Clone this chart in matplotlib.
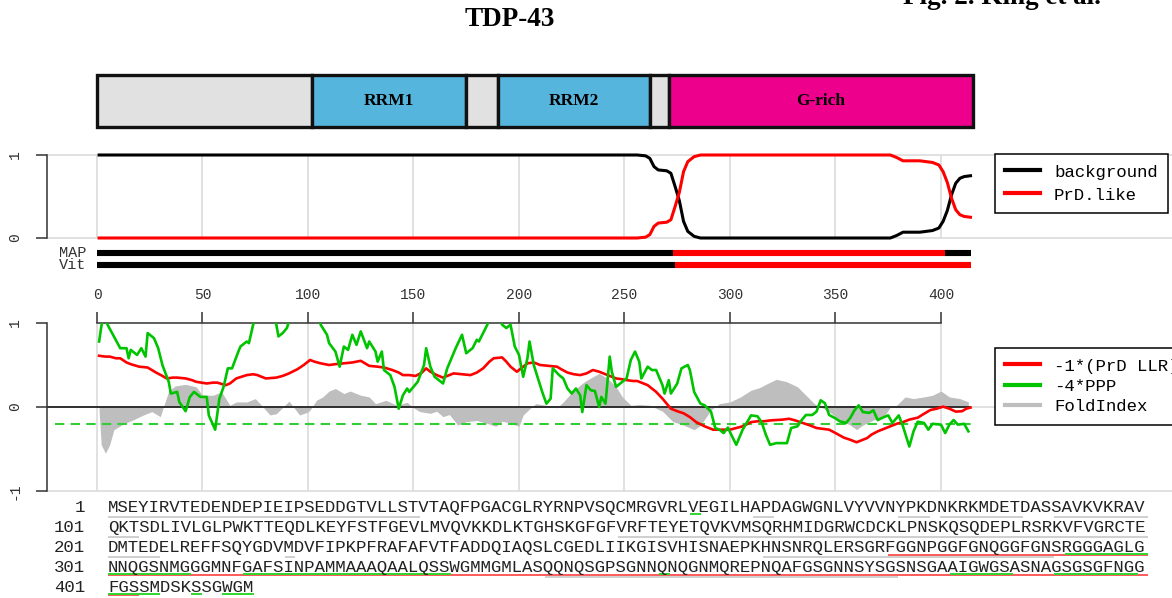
import matplotlib
matplotlib.use('Agg')
import matplotlib.pyplot as plt
from matplotlib.lines import Line2D

W, H = 1172, 598
MONO = 'Liberation Mono'
SERIF = 'Liberation Serif'
plt.rcParams['font.family'] = MONO
plt.rcParams['axes.unicode_minus'] = False

# ---- data ----
seq_lines = [
    'MSEYIRVTEDENDEPIEIPSEDDGTVLLSTVTAQFPGACGLRYRNPVSQCMRGVRLVEGILHAPDAGWGNLVYVVNYPKDNKRKMDETDASSAVKVKRAV',
    'QKTSDLIVLGLPWKTTEQDLKEYFSTFGEVLMVQVKKDLKTGHSKGFGFVRFTEYETQVKVMSQRHMIDGRWCDCKLPNSKQSQDEPLRSRKVFVGRCTE',
    'DMTEDELREFFSQYGDVMDVFIPKPFRAFAFVTFADDQIAQSLCGEDLIIKGISVHISNAEPKHNSNRQLERSGRFGGNPGGFGNQGGFGNSRGGGAGLG',
    'NNQGSNMGGGMNFGAFSINPAMMAAAQAALQSSWGMMGMLASQQNQSGPSGNNQNQGNMQREPNQAFGSGNNSYSGSNSGAAIGWGSASNAGSGSGFNGG',
    'FGSSMDSKSSGWGM',
]
seq_len = 414

dom_start = [0, 102, 175, 190, 262, 271]
dom_end = [102, 175, 190, 262, 271, 415]
dom_name = ['', 'RRM1', '', 'RRM2', '', 'G-rich']

# HMM state probabilities
bg_x = [1, 250, 256, 260, 262, 264, 266, 270, 272, 274, 276, 278, 280, 283, 286, 300, 350, 376,
        379, 382, 390, 396, 399, 401, 403, 405, 407, 409, 411, 414]
bg_y = [1, 1, 1, 0.99, 0.96, 0.86, 0.82, 0.81, 0.78, 0.62, 0.45, 0.2, 0.08, 0.02, 0.0, 0.0, 0.0, 0.0,
        0.03, 0.07, 0.07, 0.09, 0.12, 0.2, 0.33, 0.52, 0.66, 0.72, 0.74, 0.75]
prd_y = [0, 0, 0, 0.01, 0.04, 0.14, 0.18, 0.19, 0.22, 0.38, 0.55, 0.8, 0.92, 0.98, 1.0, 1.0, 1.0, 1.0,
         0.97, 0.93, 0.93, 0.91, 0.88, 0.8, 0.67, 0.48, 0.34, 0.28, 0.26, 0.25]

# MAP / Viterbi parse (0 = background, 1 = PrD-like)
map_bounds = [0, 273, 402, 414]
map_state = [0, 1, 0]
vit_bounds = [0, 274, 414]
vit_state = [0, 1]

# -1*(PrD LLR)
llr_x = [1, 4, 6, 9, 11, 14, 16, 20, 24, 28, 31, 33, 36, 38, 42, 45, 47, 52, 55, 57, 61, 63, 66, 71,
         74, 76, 80, 85, 88, 91, 95, 98, 101, 103, 106, 110, 113, 117, 121, 125, 129, 133, 136, 140,
         143, 145, 148, 151, 154, 156, 158, 161, 164, 166, 169, 173, 177, 180, 183, 186, 188, 192,
         194, 196, 199, 201, 204, 207, 210, 214, 218, 220, 223, 226, 229, 232, 235, 238, 240, 243,
         246, 249, 251, 254, 256, 258, 261, 263, 265, 268, 272, 275, 278, 281, 284, 288, 292, 296,
         300, 303, 306, 310, 313, 316, 319, 322, 325, 328, 331, 335, 338, 341, 344, 347, 350, 354,
         357, 360, 362, 365, 367, 370, 373, 376, 379, 382, 385, 389, 392, 395, 398, 401, 404, 407,
         410, 412, 414]
llr_y = [0.61, 0.60, 0.60, 0.58, 0.58, 0.53, 0.51, 0.48, 0.47, 0.41, 0.37, 0.34, 0.35, 0.35, 0.34,
         0.32, 0.30, 0.28, 0.29, 0.29, 0.26, 0.28, 0.34, 0.38, 0.39, 0.38, 0.34, 0.35, 0.37, 0.40,
         0.45, 0.50, 0.56, 0.54, 0.52, 0.50, 0.51, 0.52, 0.53, 0.55, 0.49, 0.48, 0.47, 0.44, 0.41,
         0.38, 0.38, 0.37, 0.41, 0.46, 0.42, 0.38, 0.35, 0.37, 0.40, 0.39, 0.38, 0.41, 0.46, 0.54,
         0.58, 0.59, 0.54, 0.48, 0.42, 0.46, 0.52, 0.53, 0.50, 0.49, 0.48, 0.45, 0.41, 0.39, 0.38,
         0.40, 0.44, 0.42, 0.40, 0.37, 0.34, 0.33, 0.32, 0.31, 0.31, 0.29, 0.26, 0.22, 0.18, 0.10,
         -0.02, -0.05, -0.075, -0.12, -0.18, -0.23, -0.27, -0.27, -0.27, -0.25, -0.23, -0.18, -0.17,
         -0.17, -0.16, -0.155, -0.15, -0.14, -0.16, -0.195, -0.22, -0.25, -0.26, -0.27, -0.31,
         -0.365, -0.39, -0.42, -0.40, -0.37, -0.33, -0.29, -0.26, -0.23, -0.20, -0.18, -0.15,
         -0.127, -0.08, -0.036, -0.02, 0.004, -0.02, -0.055, -0.05, -0.02, -0.007]

# -4*PPP
ppp_x = [1, 2, 3, 4, 5, 8, 11, 14, 15, 16, 19, 21, 23, 24, 27, 29, 31, 34, 35, 38, 39, 42, 44, 46,
         49, 52, 53, 56, 58, 60, 62, 64, 67, 68, 71, 72, 74, 76, 80, 83, 85, 86, 88, 90, 92, 100,
         105, 106, 109, 110, 113, 115, 117, 119, 121, 123, 125, 128, 129, 132, 133, 135, 136, 139,
         141, 143, 145, 147, 148, 150, 152, 155, 156, 158, 160, 164, 166, 170, 173, 175, 178, 180,
         181, 185, 187, 190, 192, 194, 196, 198, 200, 202, 204, 205, 207, 209, 211, 213, 215, 216,
         219, 221, 223, 225, 227, 229, 230, 232, 234, 236, 238, 239, 241, 243, 244, 246, 249, 251,
         253, 255, 257, 258, 261, 263, 265, 268, 269, 271, 272, 275, 277, 280, 281, 283, 286, 288,
         291, 293, 295, 297, 299, 301, 303, 306, 310, 313, 315, 317, 319, 322, 327, 329, 332, 334,
         336, 339, 341, 343, 345, 347, 350, 352, 355, 357, 359, 361, 363, 366, 368, 370, 373, 375,
         377, 380, 382, 384, 385, 387, 389, 392, 394, 396, 400, 402, 404, 406, 408, 411, 413]
ppp_y = [0.78, 0.95, 1.10, 1.05, 0.98, 0.84, 0.70, 0.70, 0.58, 0.68, 0.62, 0.70, 0.60, 0.88, 0.82,
         0.70, 0.50, 0.30, 0.16, 0.18, 0.06, -0.05, 0.12, 0.18, 0.12, 0.12, -0.10, -0.27, 0.10, 0.24,
         0.46, 0.46, 0.66, 0.72, 0.78, 0.76, 0.98, 1.10, 1.25, 1.10, 0.98, 0.84, 0.88, 0.94, 1.10,
         1.25, 1.10, 0.98, 0.86, 0.76, 0.66, 0.48, 0.72, 0.68, 0.86, 0.74, 0.90, 0.70, 0.78, 0.66,
         0.54, 0.66, 0.44, 0.38, 0.24, -0.02, 0.14, 0.22, 0.18, 0.24, 0.30, 0.50, 0.70, 0.48, 0.36,
         0.28, 0.46, 0.70, 0.86, 0.64, 0.70, 0.80, 0.78, 0.98, 1.15, 1.10, 0.98, 0.94, 0.98, 0.72,
         0.62, 0.36, 0.58, 0.78, 0.50, 0.34, 0.18, 0.04, 0.10, 0.46, 0.38, 0.34, 0.22, 0.16, 0.22,
         0.14, -0.06, 0.26, 0.20, 0.19, 0.0, 0.12, 0.04, 0.60, 0.42, 0.24, 0.30, 0.34, 0.56, 0.66,
         0.54, 0.34, 0.48, 0.44, 0.44, 0.26, 0.16, 0.32, 0.16, 0.28, 0.46, 0.50, 0.44, 0.18, 0.04,
         0.02, -0.055, -0.25, -0.27, -0.31, -0.245, -0.35, -0.45, -0.27, -0.10, -0.11, -0.18, -0.33,
         -0.45, -0.43, -0.43, -0.25, -0.23, -0.155, -0.095, -0.095, -0.055, 0.08, 0.045, -0.095,
         -0.135, -0.17, -0.19, -0.13, -0.04, 0.02, -0.06, -0.07, -0.04, -0.155, -0.12, -0.10, -0.19,
         -0.10, -0.23, -0.39, -0.47, -0.29, -0.175, -0.19, -0.27, -0.20, -0.21, -0.31, -0.21, -0.155,
         -0.21, -0.20, -0.29]

# FoldIndex
fold_x = [1, 2, 4, 6, 8, 12, 17, 22, 26, 30, 32, 34, 37, 42, 47, 50, 55, 59, 63, 66, 71, 75, 78, 82,
          85, 91, 96, 100, 101, 104, 107, 110, 113, 117, 120, 125, 129, 132, 137, 142, 147, 150, 153,
          158, 161, 164, 167, 171, 175, 180, 185, 189, 192, 196, 200, 202, 206, 208, 213, 218, 221,
          226, 231, 235, 238, 242, 246, 249, 253, 257, 262, 265, 268, 273, 278, 283, 286, 291, 295,
          300, 305, 310, 314, 317, 322, 327, 332, 336, 340, 343, 347, 352, 357, 360, 363, 368, 373,
          376, 379, 383, 387, 392, 396, 400, 404, 409, 413]
fold_y = [-0.05, -0.45, -0.55, -0.45, -0.27, -0.21, -0.155, -0.095, -0.055, -0.115, 0.04, 0.19, 0.25,
          0.27, 0.24, 0.14, 0.14, 0.18, 0.02, 0.06, 0.06, 0.10, 0.02, -0.095, -0.08, 0.07, -0.095,
          -0.06, -0.036, 0.08, 0.12, 0.19, 0.22, 0.16, 0.19, 0.14, 0.12, 0.04, 0.08, 0.02, 0.056,
          -0.01, -0.055, -0.075, -0.05, -0.115, -0.09, -0.215, -0.175, -0.16, -0.195, -0.23, -0.17,
          -0.19, -0.23, -0.095, 0.0, 0.04, 0.02, -0.01, 0.06, 0.20, 0.30, 0.36, 0.40, 0.34, 0.24,
          0.12, 0.02, 0.03, 0.02, -0.016, -0.05, -0.175, -0.215, -0.27, -0.22, -0.036, 0.04, 0.06,
          0.12, 0.20, 0.23, 0.27, 0.33, 0.30, 0.24, 0.14, 0.04, 0.0, -0.055, -0.155, -0.215, -0.27,
          -0.215, -0.155, -0.115, 0.0, 0.02, 0.12, 0.10, 0.12, 0.14, 0.19, 0.12, 0.10, 0.06]
ppp_cut = -0.2

# residue runs underlined in the sequence (first, last)
grey_runs = [(1, 30), (63, 64), (77, 79), (81, 88), (92, 103), (150, 205), (218, 218), (264, 291),
             (343, 376)]
red_runs = [(276, 403)]
green_runs = [(57, 57), (293, 300), (301, 308), (314, 333), (354, 354), (382, 387), (392, 399),
              (401, 405), (409, 409), (412, 414)]

grid_x = list(range(0, 401, 50))

# ---- figure ----
fig = plt.figure(figsize=(W / 100, H / 100), dpi=100)


def box(x0, y0, x1, y1):
    return [x0 / W, 1 - y1 / H, (x1 - x0) / W, (y1 - y0) / H]


XLIM = (-23.7, 509.5)
GRID = '#d9d9d9'
AXC = '#333333'

fig.text(510 / W, 1 - 20 / H, 'TDP-43', ha='center', va='center', fontsize=19.5,
         weight='bold', family=SERIF)
fig.text(903 / W, 1 - 4 / H, 'Fig. 2. King et al.', ha='left', va='baseline', fontsize=19.5,
         weight='bold', family=SERIF)

# domain bar
ax0 = fig.add_axes(box(47, 72, 1172, 130))
ax0.set_xlim(*XLIM)
ax0.set_ylim(-0.5577, 0.5577)
ax0.axis('off')
dom_colors = {'': '#e1e1e1', 'RRM1': '#55b5dd', 'RRM2': '#55b5dd', 'G-rich': '#ec008c'}
for a, b, name in zip(dom_start, dom_end, dom_name):
    ax0.barh(0, b - a, left=a, height=1, color=dom_colors[name], edgecolor='#111111',
             linewidth=2.4)
    if name:
        ax0.text((a + b) / 2, 0, name, ha='center', va='center', fontsize=12.5,
                 weight='bold', family=SERIF)

# top panel: state probabilities
ax1 = fig.add_axes(box(47, 155, 1172, 238))
ax1.set_xlim(*XLIM)
ax1.set_ylim(0, 1)
ax1.patch.set_visible(False)
for s in ['top', 'right', 'bottom']:
    ax1.spines[s].set_visible(False)
ax1.spines['left'].set_bounds(0, 1)
ax1.spines['left'].set_color(AXC)
ax1.spines['left'].set_linewidth(1.1)
ax1.set_xticks([])
ax1.set_yticks([0, 1])
ax1.tick_params(axis='y', length=8, width=1.1, pad=10, labelsize=10.5, labelrotation=90,
                color=AXC, labelcolor=AXC)
for lab in ax1.get_yticklabels():
    lab.set_va('center')
ax1.vlines(grid_x, 0, 1, color=GRID, lw=1.1, zorder=0)
for yy in (0, 1):
    ax1.axhline(yy, color=GRID, lw=1.1, zorder=0, clip_on=False)
ax1.plot(bg_x, bg_y, color='black', lw=2.2, clip_on=False)
ax1.plot(bg_x, prd_y, color='#ff0000', lw=2.2, clip_on=False)

state_col = ['black', '#ff0000']
for yb, bounds, states, name in [(-0.18, map_bounds, map_state, 'MAP'),
                                 (-0.33, vit_bounds, vit_state, 'Vit')]:
    for a, b, st in zip(bounds[:-1], bounds[1:], states):
        ax1.plot([a, b], [yb, yb], color=state_col[st], lw=4.4, solid_capstyle='butt',
                 clip_on=False)
    ax1.text(-5.2, yb, name, ha='right', va='center', fontsize=11, color=AXC)

leg1 = ax1.legend([Line2D([], [], color='black', lw=3), Line2D([], [], color='#ff0000', lw=3)],
                  ['background', 'PrD.like'], loc='upper left',
                  bbox_to_anchor=(995 / W, 1 - 154 / H), bbox_transform=fig.transFigure,
                  borderaxespad=0, fancybox=False, edgecolor='black', framealpha=1,
                  fontsize=12.5, handlelength=2.0, handletextpad=0.8, labelspacing=0.45,
                  borderpad=0.6)
leg1.get_frame().set_linewidth(1.1)

# lower panel: scores
ax2 = fig.add_axes(box(47, 323, 1172, 491))
ax2.set_xlim(*XLIM)
ax2.set_ylim(-1, 1)
ax2.patch.set_visible(False)
for s in ['right', 'bottom']:
    ax2.spines[s].set_visible(False)
ax2.spines['left'].set_bounds(-1, 1)
ax2.spines['top'].set_bounds(0, 400)
for s in ['left', 'top']:
    ax2.spines[s].set_color(AXC)
    ax2.spines[s].set_linewidth(1.1)
ax2.xaxis.tick_top()
ax2.set_xticks(grid_x)
ax2.tick_params(axis='x', length=8, width=1.1, pad=7, labelsize=10.5, color=AXC, labelcolor=AXC)
ax2.set_yticks([-1, 0, 1])
ax2.tick_params(axis='y', length=8, width=1.1, pad=10, labelsize=10.5, labelrotation=90,
                color=AXC, labelcolor=AXC)
for lab in ax2.get_yticklabels():
    lab.set_va('center')

ax2.vlines(grid_x, -1, 1, color=GRID, lw=1.1, zorder=0)
ax2.axhline(-1, color=GRID, lw=1.1, zorder=0, clip_on=False)
ax2.axhline(0, color=GRID, lw=1.1, zorder=0)
ax2.fill_between(fold_x, 0, fold_y, color='#bebebe', lw=0, zorder=1)
ax2.hlines(0, XLIM[0], seq_len, color='#222222', lw=1.3, zorder=2)
ax2.plot([-20, seq_len], [ppp_cut, ppp_cut], color='#33cc33', lw=1.5, ls=(0, (4.5, 3)), zorder=2)
ax2.plot(llr_x, llr_y, color='#ff0000', lw=1.9, zorder=3)
ax2.plot(ppp_x, ppp_y, color='#00c400', lw=1.9, zorder=4)

leg2 = ax2.legend([Line2D([], [], color='#ff0000', lw=3), Line2D([], [], color='#00c400', lw=3),
                   Line2D([], [], color='#bebebe', lw=3)],
                  ['-1*(PrD LLR)', '-4*PPP', 'FoldIndex'], loc='upper left',
                  bbox_to_anchor=(995 / W, 1 - 348 / H), bbox_transform=fig.transFigure,
                  borderaxespad=0, fancybox=False, edgecolor='black', framealpha=1,
                  fontsize=12.5, handlelength=2.0, handletextpad=0.8, labelspacing=0.3,
                  borderpad=0.6)
leg2.get_frame().set_linewidth(1.1)

# sequence with underlines
ax3 = fig.add_axes(box(108, 497, 1148, 597))
ax3.set_xlim(0, 100)
ax3.set_ylim(4.5, -0.5)
ax3.axis('off')
BASE = 0.25
for k, line in enumerate(seq_lines):
    ax3.text(0, k + BASE, line, ha='left', va='baseline', fontsize=12.5, color='#222222')
    ax3.text(-2.2, k + BASE, str(100 * k + 1), ha='right', va='baseline', fontsize=12.5,
             color='#222222')


def underline(runs, offset, color):
    for a, b in runs:
        for k in range(len(seq_lines)):
            lo = max(a, 100 * k + 1)
            hi = min(b, 100 * k + 100)
            if lo <= hi:
                ax3.plot([lo - 1 - 100 * k, hi - 100 * k], [k + BASE + offset] * 2,
                         color=color, lw=1.4, solid_capstyle='butt', clip_on=False)


underline(grey_runs, 0.25, '#cfcfcf')
underline(red_runs, 0.17, '#ff5a5a')
underline(green_runs, 0.085, '#2fd62f')

fig.savefig('out.png', dpi=100)
